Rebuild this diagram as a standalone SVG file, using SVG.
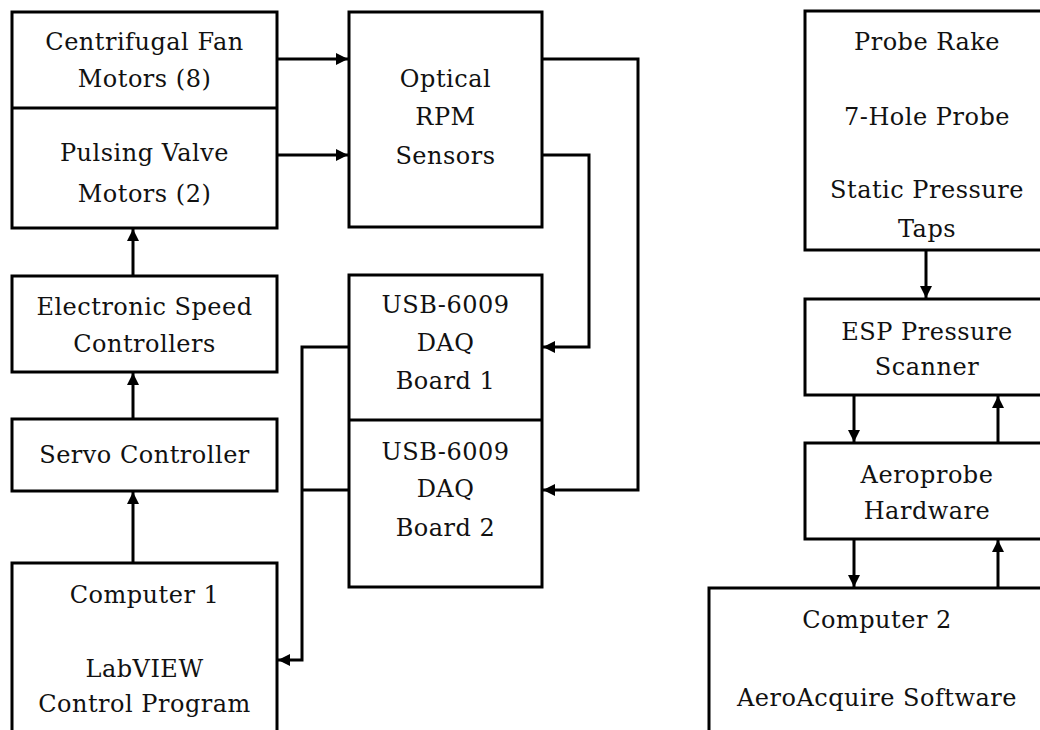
<svg xmlns="http://www.w3.org/2000/svg" width="1040" height="730" viewBox="0 0 1040 730">
<style>
.box{fill:#fff;stroke:#000;stroke-width:3}
.div{stroke:#000;stroke-width:3}
.t{font-family:"DejaVu Serif","Liberation Serif",serif;font-size:24px;letter-spacing:0.5px;fill:#111;text-anchor:middle}
.c{fill:none;stroke:#000;stroke-width:3}
</style>
<defs>
<marker id="ah" markerUnits="userSpaceOnUse" markerWidth="14" markerHeight="12" refX="12" refY="6" orient="auto">
<path d="M0,0 L12,6 L0,12 z" fill="#000"/>
</marker>
</defs>
<rect width="1040" height="730" fill="#fff"/>
<g id="motors">
<rect class="box" x="12" y="12" width="265" height="216"/>
<line class="div" x1="12" y1="108" x2="277" y2="108"/>
<text class="t" x="144.5" y="50">Centrifugal Fan</text>
<text class="t" x="144.5" y="87">Motors (8)</text>
<text class="t" x="144.5" y="161">Pulsing Valve</text>
<text class="t" x="144.5" y="202">Motors (2)</text>
</g>
<g id="optical">
<rect class="box" x="349" y="12" width="193" height="215"/>
<text class="t" x="445.5" y="87">Optical</text>
<text class="t" x="445.5" y="125">RPM</text>
<text class="t" x="445.5" y="164">Sensors</text>
</g>
<g id="esc">
<rect class="box" x="12" y="276" width="265" height="96"/>
<text class="t" x="144.5" y="315">Electronic Speed</text>
<text class="t" x="144.5" y="352">Controllers</text>
</g>
<g id="servo">
<rect class="box" x="12" y="419" width="265" height="72"/>
<text class="t" x="144.5" y="463">Servo Controller</text>
</g>
<g id="computer1">
<rect class="box" x="12" y="563" width="265" height="190"/>
<text class="t" x="144.5" y="603">Computer 1</text>
<text class="t" x="144.5" y="677">LabVIEW</text>
<text class="t" x="144.5" y="712">Control Program</text>
</g>
<g id="daq">
<rect class="box" x="349" y="275" width="193" height="312"/>
<line class="div" x1="349" y1="420" x2="542" y2="420"/>
<text class="t" x="445.5" y="313">USB-6009</text>
<text class="t" x="445.5" y="351">DAQ</text>
<text class="t" x="445.5" y="389">Board 1</text>
<text class="t" x="445.5" y="460">USB-6009</text>
<text class="t" x="445.5" y="497">DAQ</text>
<text class="t" x="445.5" y="536">Board 2</text>
</g>
<g id="probe">
<rect class="box" x="805" y="11" width="250" height="239"/>
<text class="t" x="927" y="50">Probe Rake</text>
<text class="t" x="927" y="125">7-Hole Probe</text>
<text class="t" x="927" y="198">Static Pressure</text>
<text class="t" x="927" y="237">Taps</text>
</g>
<g id="esp">
<rect class="box" x="805" y="299" width="250" height="96"/>
<text class="t" x="927" y="340">ESP Pressure</text>
<text class="t" x="927" y="375">Scanner</text>
</g>
<g id="aeroprobe">
<rect class="box" x="805" y="443" width="250" height="96"/>
<text class="t" x="927" y="483">Aeroprobe</text>
<text class="t" x="927" y="519">Hardware</text>
</g>
<g id="computer2">
<rect class="box" x="709" y="588" width="345" height="160"/>
<text class="t" x="877" y="628">Computer 2</text>
<text class="t" x="877" y="706">AeroAcquire Software</text>
</g>
<g id="connectors">
<path class="c" d="M277,59 H348" marker-end="url(#ah)"/>
<path class="c" d="M277,155 H348" marker-end="url(#ah)"/>
<path class="c" d="M542,155 H589 V347 H543" marker-end="url(#ah)"/>
<path class="c" d="M542,59 H638 V490 H543" marker-end="url(#ah)"/>
<path class="c" d="M133,276 V229" marker-end="url(#ah)"/>
<path class="c" d="M133,419 V373" marker-end="url(#ah)"/>
<path class="c" d="M133,563 V492" marker-end="url(#ah)"/>
<path class="c" d="M349,347 H302 V660 H278" marker-end="url(#ah)"/>
<path class="c" d="M349,490 H302"/>
<path class="c" d="M926,250 V298" marker-end="url(#ah)"/>
<path class="c" d="M854,395 V442" marker-end="url(#ah)"/>
<path class="c" d="M998,443 V396" marker-end="url(#ah)"/>
<path class="c" d="M854,539 V587" marker-end="url(#ah)"/>
<path class="c" d="M998,588 V540" marker-end="url(#ah)"/>
</g>
</svg>
